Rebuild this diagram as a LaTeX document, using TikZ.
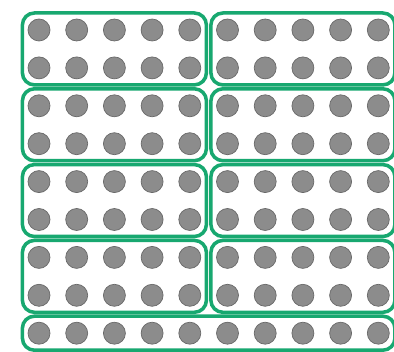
\documentclass[tikz,border=0pt]{standalone}
\usepackage{tikz}
\usetikzlibrary{fit}
\definecolor{mrk}{RGB}{24,168,112}
\definecolor{cntfill}{RGB}{140,140,140}
\definecolor{cntline}{RGB}{105,105,105}
\tikzset{
  cnt/.style={circle,fill=cntfill,draw=cntline,line width=0.5pt,minimum size=0.55cm,inner sep=0pt,outer sep=0pt},
  grp/.style={draw=mrk,line width=2.5pt,rounded corners=0.3cm,inner xsep=0.14cm,inner ysep=0.15cm},
}
\begin{document}
\begin{tikzpicture}[x=0.025cm,y=-0.025cm]
\useasboundingbox (0,0) rectangle (394,352);
% counters: 9 rows of 10
\foreach \r in {0,...,8}{\foreach \c in {0,...,9}{
  \node[cnt] (d\r\c) at ({39+37.7*\c},{30+37.9*\r}){};}}
% groups of ten
\node[grp,fit=(d00)(d14)]{}; \node[grp,fit=(d05)(d19)]{};
\node[grp,fit=(d20)(d34)]{}; \node[grp,fit=(d25)(d39)]{};
\node[grp,fit=(d40)(d54)]{}; \node[grp,fit=(d45)(d59)]{};
\node[grp,fit=(d60)(d74)]{}; \node[grp,fit=(d65)(d79)]{};
\node[grp,fit=(d80)(d89)]{};
\end{tikzpicture}
\end{document}
